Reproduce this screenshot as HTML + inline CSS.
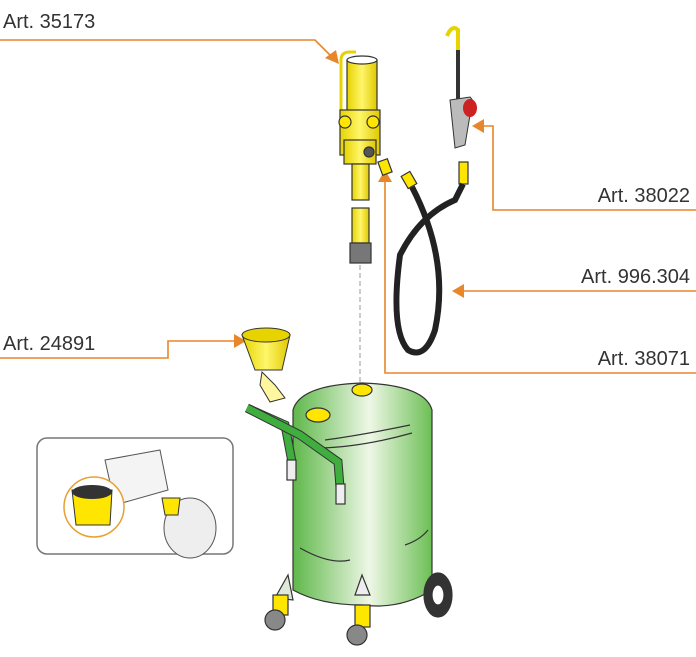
<!DOCTYPE html>
<html><head><meta charset="utf-8"><style>
html,body{margin:0;padding:0;background:#fff;}
svg{display:block}
text{font-family:"Liberation Sans",sans-serif;font-size:20px;fill:#333}
</style></head><body>
<svg width="696" height="657" viewBox="0 0 696 657" xmlns="http://www.w3.org/2000/svg">
<defs>
<linearGradient id="g" x1="0" x2="1"><stop offset="0" stop-color="#5fb84a"/><stop offset="0.55" stop-color="#eef7e6"/><stop offset="1" stop-color="#6cbf55"/></linearGradient>
<linearGradient id="y" x1="0" x2="1"><stop offset="0" stop-color="#e6d300"/><stop offset="0.5" stop-color="#fff66a"/><stop offset="1" stop-color="#e0c800"/></linearGradient>
</defs>
<g stroke="#e8862a" stroke-width="1.6" fill="none">
<polyline points="0,40 315,40 333,58"/>
<polyline points="0,358 168,358 168,341 236,341"/>
<polyline points="696,210 493,210 493,126 480,126"/>
<polyline points="696,291 460,291"/>
<polyline points="696,373 385,373 385,180"/>
</g>
<g fill="#e8862a">
<polygon points="339,64 325,58 336,50"/>
<polygon points="246,341 234,334 234,348"/>
<polygon points="472,126 484,119 484,133"/>
<polygon points="452,291 464,284 464,298"/>
<polygon points="385,170 378,182 392,182"/>
</g>
<text x="3" y="28">Art. 35173</text>
<text x="3" y="350">Art. 24891</text>
<text x="690" y="202" text-anchor="end">Art. 38022</text>
<text x="690" y="283" text-anchor="end">Art. 996.304</text>
<text x="690" y="365" text-anchor="end">Art. 38071</text>
<line x1="360" y1="265" x2="360" y2="385" stroke="#999" stroke-dasharray="5,3"/>
<!-- pump -->
<g stroke="#333" stroke-width="1.2">
<path d="M341,110 L341,60 Q341,52 350,52 L356,52" fill="none" stroke="#e6d300" stroke-width="3"/>
<rect x="347" y="60" width="30" height="60" fill="url(#y)"/>
<ellipse cx="362" cy="60" rx="15" ry="4" fill="#fff"/>
<rect x="340" y="110" width="40" height="45" fill="url(#y)"/>
<circle cx="345" cy="122" r="6" fill="#ffe600"/>
<circle cx="373" cy="122" r="6" fill="#ffe600"/>
<rect x="344" y="140" width="32" height="24" fill="url(#y)"/>
<circle cx="369" cy="152" r="5" fill="#555"/>
<rect x="352" y="164" width="17" height="36" fill="url(#y)"/>
<rect x="352" y="208" width="17" height="35" fill="url(#y)"/>
<rect x="350" y="243" width="21" height="20" fill="#777"/>
<rect x="380" y="160" width="10" height="14" fill="#ffe600" transform="rotate(-20 385 167)"/>
<rect x="404" y="173" width="10" height="14" fill="#ffe600" transform="rotate(-30 409 180)"/>
<rect x="459" y="162" width="9" height="22" fill="#ffe600"/>
</g>
<!-- hose -->
<path d="M412,187 Q450,260 435,330 Q425,360 408,350 Q390,330 400,255 Q420,215 455,200 L463,184" fill="none" stroke="#222" stroke-width="6"/>
<!-- gun -->
<path d="M447,36 Q452,24 458,30 L458,60" fill="none" stroke="#e6d300" stroke-width="4"/>
<line x1="458" y1="50" x2="458" y2="100" stroke="#333" stroke-width="4"/>
<path d="M450,100 L470,97 Q478,105 470,115 L465,145 L455,148 Z" fill="#bbb" stroke="#333"/>
<ellipse cx="470" cy="108" rx="7" ry="9" fill="#c22"/>
<!-- funnel -->
<path d="M242,335 L290,335 L282,370 L255,370 Z" fill="url(#y)" stroke="#333"/>
<ellipse cx="266" cy="335" rx="24" ry="7" fill="#e6d300" stroke="#333"/>
<path d="M262,372 L275,385 L285,398 L270,402 L260,385 Z" fill="#fff6a0" stroke="#333"/>
<!-- tank -->
<g stroke="#333" stroke-width="1.2">
<path d="M293,410 Q300,385 362,383 Q425,385 432,410 L432,590 Q400,610 362,605 Q320,605 293,590 Z" fill="url(#g)"/>
<path d="M325,440 Q362,435 410,425 M320,448 Q362,447 412,433 M300,548 Q330,565 350,560 M405,545 Q420,540 428,530" fill="none" stroke="#333"/>
<ellipse cx="362" cy="390" rx="10" ry="6" fill="#ffe600"/>
<ellipse cx="318" cy="415" rx="12" ry="7" fill="#ffe600"/>
</g>
<path d="M247,408 L285,425 L292,462" fill="none" stroke="#333" stroke-width="9"/>
<path d="M247,408 L285,425 L292,462" fill="none" stroke="#3fae3f" stroke-width="7"/>
<path d="M247,408 L300,435 L338,462 L340,487" fill="none" stroke="#333" stroke-width="9"/>
<path d="M247,408 L300,435 L338,462 L340,487" fill="none" stroke="#3fae3f" stroke-width="7"/>
<g stroke="#333" stroke-width="1.2">
<rect x="287" y="460" width="9" height="20" fill="#eee"/>
<rect x="336" y="484" width="9" height="20" fill="#eee"/>
<path d="M288,575 L293,600 L275,598 Z" fill="#dfe9d8"/>
<path d="M362,575 L355,595 L370,595 Z" fill="#eee"/>
<ellipse cx="438" cy="595" rx="14" ry="22" fill="#333"/>
<ellipse cx="438" cy="595" rx="6" ry="10" fill="#fff"/>
<rect x="273" y="595" width="15" height="20" fill="#ffe600"/>
<circle cx="275" cy="620" r="10" fill="#888"/>
<rect x="355" y="605" width="15" height="22" fill="#ffe600"/>
<circle cx="357" cy="635" r="10" fill="#888"/>
</g>
<!-- inset -->
<rect x="37" y="438" width="196" height="116" rx="10" fill="#fff" stroke="#777" stroke-width="1.5"/>
<path d="M105,460 L160,450 L168,490 L115,505 Z" fill="#f4f4f4" stroke="#555"/>
<ellipse cx="190" cy="528" rx="26" ry="30" fill="#eee" stroke="#555"/>
<circle cx="94" cy="507" r="30" fill="#fff" stroke="#e8a030" stroke-width="1.5"/>
<path d="M72,490 L112,490 L110,525 L76,525 Z" fill="#ffe600" stroke="#333"/>
<ellipse cx="92" cy="492" rx="20" ry="7" fill="#333"/>
<path d="M162,498 L180,498 L178,515 L165,515 Z" fill="#ffe600" stroke="#333"/>
</svg>
</body></html>
